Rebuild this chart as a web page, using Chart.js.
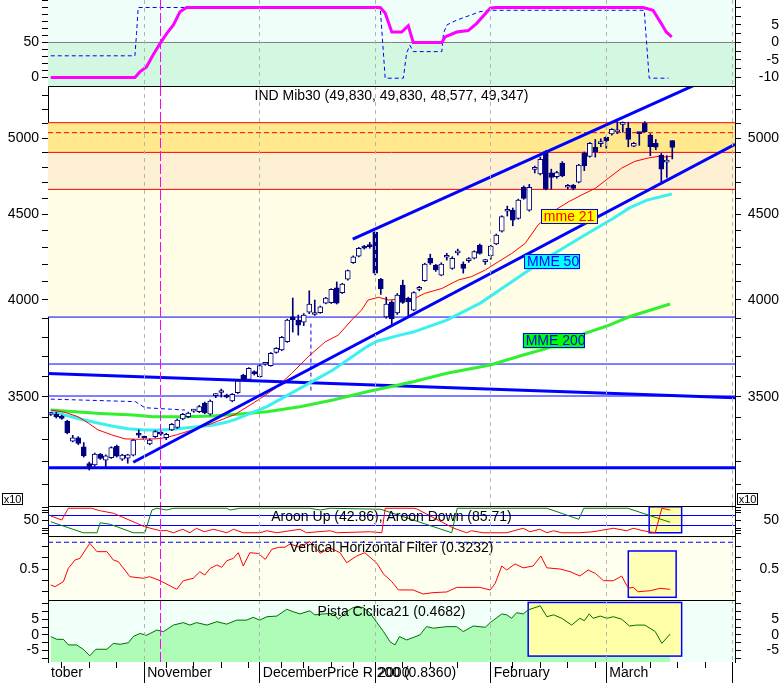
<!DOCTYPE html>
<html>
<head>
<meta charset="utf-8">
<title>IND Mib30</title>
<script src="https://cdn.jsdelivr.net/npm/chart.js@4.4.1/dist/chart.umd.min.js"></script>
<style>
  body { margin: 0; background: #fff; }
  #wrap { position: relative; width: 784px; height: 696px; overflow: hidden; }
  canvas { position: absolute; left: 0; }
</style>
</head>
<body>
<div id="wrap">
  <canvas id="pTop" width="784" height="86" style="top:0px"></canvas>
  <canvas id="pMain" width="784" height="420" style="top:86px"></canvas>
  <canvas id="pAroon" width="784" height="30" style="top:506px"></canvas>
  <canvas id="pVhf" width="784" height="64" style="top:536px"></canvas>
  <canvas id="pCyc" width="784" height="96" style="top:600px"></canvas>
</div>
<script>
// x is the bar index (trading days from early October 1999)
const X_MIN = -0.5, X_MAX = 124.4;
const MONTH_IDX = [17, 38, 59, 80, 101, 124];
const MONTH_LABELS = ['November', 'December', '2000', 'February', 'March', ''];
const FIRST_LABEL = 'tober';
const MARK_IDX = 20;
const WEEK_IDX = [2, 7, 12, 21, 26, 31, 36, 42, 46, 51, 55, 64, 69, 74, 84, 89, 94, 99, 104, 109, 114, 119];

// IND Mib30 daily candles
const opens = [3415,3417,3408,3384,3292,3307,3266,3191,3185,3232, 3206,3218,3268,3211,3215,3229,3320,3306,3279,3312,
  3332,3308,3343,3354,3394,3405,3431,3428,3469,3416, 3505,3520,3508,3479,3519,3606,3584,3623,3598,3660,
  3653,3720,3733,3776,3907,3890,3878,3932,3920,3930, 3982,3984,4067,4039,4115,4210,4248,4307,4306,4390,
  4115,3907,3988,3928,4082,4008,3944,4058,4107,4236, 4196,4139,4242,4177,4268,4202,4222,4236,4314,4216,
  4250,4321,4397,4520,4527,4476,4672,4527,4788,4758, 4908,4765,4740,4830,4672,4686,4705,4898,4875,4937,
  4962,5005,5028,5043,5095,5068,4945,5035,5102,5021, 4964,4884,4837,4983];
const highs = [3425,3425,3412,3388,3318,3312,3285,3198,3238,3236, 3230,3266,3274,3233,3233,3300,3343,3315,3302,3340,
  3336,3327,3373,3394,3420,3426,3440,3458,3474,3484, 3515,3537,3512,3515,3580,3610,3643,3627,3657,3668,
  3720,3745,3803,3895,4010,3917,3925,4050,3999,3966, 4014,4062,4100,4092,4168,4250,4300,4312,4330,4400,
  4120,4015,3995,4035,4110,4015,4045,4075,4207,4260, 4200,4210,4265,4245,4290,4215,4240,4280,4320,4230,
  4312,4380,4492,4552,4540,4596,4680,4690,4810,4870, 4915,4790,4776,4840,4690,4690,4822,4905,4970,4990,
  4995,5010,5065,5115,5112,5110,4970,5040,5115,5030, 4990,4895,4880,4983];
const lows = [3410,3398,3392,3325,3288,3276,3220,3163,3180,3210, 3178,3214,3220,3205,3193,3225,3308,3300,3275,3308,
  3318,3298,3340,3350,3390,3400,3425,3424,3418,3412, 3495,3498,3494,3475,3515,3580,3580,3606,3594,3655,
  3650,3716,3729,3772,3826,3810,3860,3925,3915,3926, 3978,3980,3977,4035,4110,4206,4244,4290,4295,4140,
  4030,3900,3860,3920,3980,3907,3940,4050,4103,4200, 4160,4135,4225,4172,4255,4150,4212,4232,4260,4200,
  4230,4316,4392,4490,4430,4470,4595,4520,4765,4752, 4655,4660,4730,4740,4660,4655,4700,4780,4870,4870,
  4940,4930,5020,5030,5040,4940,4940,4950,5040,4880, 4920,4706,4735,4858];
const closes = [3418,3403,3396,3330,3307,3281,3225,3178,3234,3214, 3226,3262,3224,3229,3230,3297,3319,3305,3297,3335,
  3323,3323,3369,3389,3416,3422,3432,3452,3422,3479, 3508,3522,3498,3511,3576,3584,3639,3611,3653,3662,
  3715,3741,3798,3890,3890,3862,3917,3977,3922,3961, 4009,4058,3981,4088,4164,4245,4295,4296,4305,4150,
  4060,3977,3896,4026,3986,3990,4040,4066,4202,4208, 4168,4202,4245,4236,4270,4177,4225,4275,4265,4218,
  4308,4374,4486,4524,4465,4590,4600,4672,4790,4856, 4663,4735,4767,4745,4674,4665,4817,4811,4964,4907,
  4964,4982,5060,5045,5108,4991,4964,5030,5044,4940, 4937,4789,4851,4935];

// moving averages (index, value)
const mme21X = [0,2.6,5,6.8,8.6,11.1,13.5,15.9,19,20.8,23.1,25.7,29.3,31.7,33.5,37.7,40.8,43.8,46.8,49.9,52.3,54.7,56.5,57.7,59.6,61.4,63.8,66.2,68,71.1,74.1,76.5,79,81.4,83.8,86.2,88.6,91.7,94.1,96.5,99,101.4,103.8,106.2,108.6,110.5,111.7,113];
const mme21Y = [3436,3425,3404,3375,3343,3320,3302,3300,3302,3307,3322,3343,3373,3397,3415,3484,3540,3614,3698,3775,3810,3890,3944,3999,4014,3999,4005,4008,4036,4063,4111,4130,4168,4216,4264,4322,4435,4527,4578,4622,4665,4731,4797,4842,4864,4875,4871,4877];
const mme50X = [0,2.6,5,8.1,11.1,14,17.1,20.2,23.1,26.2,29.3,31.7,33.5,39.3,45.3,51.3,57.5,59.3,63.5,65.9,72,78.1,86.5,90.2,96.2,102.3,105.3,108.4,112.9];
const mme50Y = [3431,3412,3396,3377,3361,3348,3343,3343,3348,3356,3365,3377,3391,3452,3540,3631,3750,3778,3810,3826,3890,3982,4158,4237,4356,4476,4542,4590,4629];
const mme200X = [0,9,15,18.6,24.8,29.5,34.4,39.3,45.3,51.3,57.5,65.9,72,79.9,85.9,90.2,96.2,101.1,105.3,112.6];
const mme200Y = [3436,3420,3412,3404,3404,3408,3417,3428,3452,3484,3524,3573,3615,3656,3707,3741,3810,3858,3909,3977];

// levels and trend lines on the price panel
const RESIST_LEVELS = [5107, 4902, 4658];
const PIVOT_LEVEL = 5037;
const BAND_FLOOR = 3906;
const BLUE_LEVELS = [3906, 3661, 3503];
const SUPPORT_LEVEL = 3173;
const upperX = [54.9, 118], upperY = [4349, 5396];
const lowerX = [15, 124.4], lowerY = [3197, 4957];
const longX = [-0.5, 124.4], longY = [3614, 3495];
const stopX = [0, 15.4, 17.1, 24.4], stopY = [3488, 3476, 3447, 3436];
const stop2X = [47.3, 47.3], stop2Y = [3871, 3522];
const MAIN_LABELS = [3500, 4000, 4500, 5000];

// top oscillator
const oscX = [0,15.3,16.2,17.4,18.6,19.9,21.1,22.3,23.5,24.7,59.9,60.8,62,63.8,65,65.9,71.1,71.7,73.8,75.9,77.4,79.9,80.8,107.7,109.5,111,111.9,112.9];
const oscY = [0,0,8,15,32,49,63,75,94,100,100,92,65,65,74,50,50,58,65,67,77,99,100,100,96,77,65,58];
const sigX = [0,15.3,15.6,15.9,59.9,60.8,64.1,64.7,65.3,65.9,71.1,71.4,72,73.8,76.3,78,79.9,107.9,108.2,108.8,112.3];
const sigY = [31,31,63,100,100,-1,-1,35,46,37,37,63,75,82,89,94,96,96,63,-1,-1];

// Aroon
const downX = [0,2,3.2,7.4,9,11.4,17.1,19.9,21.1,22.3,24,25.3,26.5,27.9,29.6,30.5,32,33.2,35,38,39.3,41.1,45.3,46.5,50.8,52,58,60.2,60.8,65.9,66.6,72.9,73.8,75.6,76.5,78.6,82.9,85.9,87.1,88.9,90.2,91.4,92.9,96.2,98.6,102.3,104.7,105.9,107.7,109.9,111.1,112.6];
const downY = [68,52,99,99,89,79,25,9,10,1,15,1,19,5,15,10,1,15,1,1,9,1,15,1,9,1,5,1,99,99,96,23,15,1,9,1,1,19,5,15,1,9,1,1,5,19,9,19,9,1,99,92];
const upX = [0,5.9,8.4,9,10.8,15,17.1,18.4,19.3,21.1,22.3,32,32.6,34.4,47.1,49,50.8,60,72.9,73.9,90.2,96,96.9,104.9,112.6];
const upY = [45,1,1,41,35,1,1,92,99,92,99,99,92,99,99,92,99,95,1,99,99,55,99,99,43];

// Vertical Horizontal Filter
const vhfX = [0,0.8,2.3,3.2,4.4,5.3,7.1,8.4,10.2,11.4,12.3,14.4,16.8,18,19.9,22.9,24.1,25.9,27.1,28,29,30.2,31.1,32,33.2,34.1,35,36.2,37.7,39,40.2,41.4,42.6,43.5,45.3,47.1,49,50.8,52.6,53.8,55.6,57.1,59.3,60.5,62,63.2,65.9,67.7,69.5,72,73.8,78,79.9,80.8,82,82.9,84.4,85.9,87.7,89.1,90.2,92.6,94.4,96.2,97.7,99,100.5,102.3,103.8,105,105.9,106.8,109,110.8,112.6];
const vhfY = [0.361,0.346,0.39,0.506,0.578,0.593,0.724,0.651,0.651,0.578,0.564,0.433,0.419,0.433,0.398,0.323,0.398,0.419,0.476,0.448,0.506,0.535,0.515,0.572,0.593,0.642,0.526,0.642,0.636,0.584,0.672,0.689,0.69,0.718,0.69,0.738,0.637,0.683,0.642,0.555,0.613,0.642,0.55,0.456,0.39,0.318,0.317,0.282,0.294,0.3,0.34,0.34,0.317,0.375,0.526,0.491,0.544,0.51,0.526,0.613,0.51,0.5,0.477,0.439,0.491,0.462,0.398,0.398,0.439,0.332,0.34,0.302,0.311,0.332,0.323];
const VHF_LEVEL = 0.733;

// Pista Ciclica21
const cycX = [0,1.1,2.3,3.2,4.7,5.9,7.1,8.2,10.2,11.4,12.6,14.1,15,16.2,17.4,19.3,20.5,22.3,24.1,25.3,26.5,28.4,30.2,32,33.8,35.6,36.8,38,39.3,41.1,42.9,44.1,45.3,47.1,48,49.6,51.4,52.3,53.8,55,56.8,58,59.3,60.5,61.7,62.6,63.4,64.7,67.1,68.3,69.6,72,73.8,75,76.8,79,79.9,82,82.9,83.8,84.7,85.9,86.8,89,90.2,91.4,92.9,94.7,96.2,97,97.9,98.6,99.9,101.1,102.3,103.8,105.2,106.5,108,109.9,111.1,112.6];
const cycY = [-0.5,-1.4,-1.4,-3.2,-3.2,-4.6,-6.7,-4.6,-4.6,-2.7,-3,-2.5,-0.5,0.5,-0.1,1.6,1.1,3.2,4,3.2,4,3.2,4.3,3.5,4.8,4.8,5.7,4.8,5.9,6.1,8.3,7.5,6.8,7.8,6.5,6.8,7,5.1,7.5,8.9,8.9,7.2,4,1.1,-2.2,-3.2,-0.5,-1.6,0,2.7,2.2,2.7,2.7,1.1,2.9,2.5,4,6.8,6.5,5.4,7.2,6.8,8.1,9.4,5.9,6.5,5.4,3.2,5.4,4.6,6.8,5.4,6.1,5.4,5.9,5.1,2.9,3.2,3.2,1.1,-2.7,0.3];

const FONT = '"Liberation Sans", Arial, sans-serif';
Chart.defaults.font.family = FONT;
Chart.defaults.font.size = 14;
Chart.defaults.color = '#000';

const pts = (xs, ys) => xs.map((x, k) => ({x: x, y: ys[k]}));
function line(xs, ys, color, width, extra) {
  return Object.assign({type: 'line', data: pts(xs, ys), borderColor: color, borderWidth: width,
    pointRadius: 0, tension: 0, fill: false}, extra || {});
}
function level(v, color, width, extra) { return line([X_MIN, X_MAX], [v, v], color, width, extra); }

const isMark = c => c.tick && c.tick.value === MARK_IDX;

// month grid lines, drawn above the filled backgrounds (grid.z > 0)
function gridX(extra) {
  return Object.assign({
    type: 'linear', axis: 'x', position: 'bottom', min: X_MIN, max: X_MAX, offset: false,
    afterBuildTicks: s => { s.ticks = MONTH_IDX.concat([MARK_IDX]).map(v => ({value: v})); },
    afterFit: s => { s.height = 0; s.paddingLeft = 0; s.paddingRight = 0; },
    ticks: {display: false},
    grid: {z: 1, offset: false, drawTicks: false, lineWidth: 1, color: c => isMark(c) ? '#ff00ff' : '#b4b4b4'},
    border: {display: false, dash: c => isMark(c) ? [10, 3] : [4, 4]}
  }, extra || {});
}
function tickX(vals, len, weight) {
  return {
    type: 'linear', axis: 'x', position: 'bottom', min: X_MIN, max: X_MAX, offset: false, weight: weight,
    afterBuildTicks: s => { s.ticks = vals.map(v => ({value: v})); },
    afterFit: s => { s.height = 0; s.paddingLeft = 0; s.paddingRight = 0; },
    ticks: {display: false},
    grid: {offset: false, drawOnChartArea: false, drawTicks: true, tickLength: len, tickColor: '#000', color: '#000'},
    border: {display: false}
  };
}
function yAxis(pos, min, max, tickVals, shown, type) {
  return {
    type: type || 'linear', position: pos, min: min, max: max,
    afterBuildTicks: s => { s.ticks = tickVals.map(v => ({value: v})); },
    afterFit: s => { s.width = pos === 'left' ? 48 : 44; s.paddingTop = 0; s.paddingBottom = 0; },
    grid: {drawOnChartArea: false, tickLength: 6, tickColor: '#000', color: '#000'},
    border: {display: true, color: '#000'},
    ticks: {autoSkip: false, padding: 3, crossAlign: pos === 'left' ? 'near' : 'far',
      callback: v => shown.includes(v) ? String(v) : ''}
  };
}

function drawBox(chart, b) {
  const {ctx, scales: {x, y}} = chart;
  const x0 = x.getPixelForValue(b.x0), x1 = x.getPixelForValue(b.x1);
  const y0 = y.getPixelForValue(b.y0), y1 = y.getPixelForValue(b.y1);
  ctx.save();
  ctx.fillStyle = b.fill;
  ctx.fillRect(x0, y0, x1 - x0, y1 - y0);
  ctx.strokeStyle = '#0000ff';
  ctx.lineWidth = 1.5;
  ctx.strokeRect(x0, y0, x1 - x0, y1 - y0);
  ctx.restore();
}

const deco = {
  id: 'deco',
  beforeDraw(chart, args, o) {
    if (!o.bg) return;
    const a = chart.chartArea, ctx = chart.ctx;
    ctx.save();
    ctx.fillStyle = o.bg;
    ctx.fillRect(a.left, a.top, a.right - a.left, a.bottom - a.top);
    ctx.restore();
  },
  beforeDatasetsDraw(chart, args, o) {
    (o.boxes || []).filter(b => b.after === undefined).forEach(b => drawBox(chart, b));
  },
  afterDatasetDraw(chart, args, o) {
    (o.boxes || []).filter(b => b.after === args.index).forEach(b => drawBox(chart, b));
  },
  afterDatasetsDraw(chart, args, o) {
    const {ctx, chartArea: a, scales} = chart;
    ctx.save();
    ctx.font = '14px ' + FONT;
    ctx.textBaseline = 'middle';
    (o.tags || []).forEach(t => {
      const px = scales.x.getPixelForValue(t.at[0]), py = scales.y.getPixelForValue(t.at[1]);
      ctx.fillStyle = t.bg;
      ctx.fillRect(px, py, t.w, 15);
      ctx.strokeStyle = '#0000ff';
      ctx.lineWidth = 1;
      ctx.strokeRect(Math.round(px) + 0.5, Math.round(py) + 0.5, t.w - 1, 14);
      ctx.fillStyle = t.fg;
      ctx.textAlign = 'left';
      ctx.fillText(t.text, px + 3, py + 8);
    });
    ctx.fillStyle = '#000';
    ctx.textAlign = 'center';
    (o.texts || []).forEach(t => ctx.fillText(t.text, (a.left + a.right) / 2, t.y));
    ctx.restore();
  },
  afterDraw(chart, args, o) {
    const {ctx, chartArea: a} = chart;
    ctx.save();
    if (o.frameTop) {
      ctx.strokeStyle = '#000';
      ctx.lineWidth = 1;
      ctx.beginPath();
      ctx.moveTo(a.left, a.top + 0.5);
      ctx.lineTo(a.right + 1, a.top + 0.5);
      ctx.stroke();
    }
    if (o.x10) {
      ctx.font = '11px ' + FONT;
      ctx.textAlign = 'center';
      ctx.textBaseline = 'middle';
      [a.left - 46, a.right + 2].forEach(bx => {
        const by = a.bottom - 13;
        ctx.fillStyle = '#fff';
        ctx.fillRect(bx, by, 20, 11);
        ctx.strokeStyle = '#000';
        ctx.strokeRect(bx + 0.5, by + 0.5, 20, 11);
        ctx.fillStyle = '#000';
        ctx.fillText('x10', bx + 10.5, by + 6.5);
      });
    }
    ctx.restore();
  }
};

function makeChart(id, datasets, scales, decoOpts) {
  return new Chart(document.getElementById(id), {
    type: 'line',
    data: {datasets: datasets},
    options: {
      responsive: false, maintainAspectRatio: false, animation: false, events: [],
      layout: {padding: {left: 0, right: 5, top: 0, bottom: 0}, autoPadding: false},
      scales: scales,
      plugins: {legend: {display: false}, tooltip: {enabled: false}, deco: decoOpts}
    },
    plugins: [deco]
  });
}

// ---- top oscillator panel ----
const TOP_MIN = -12.14, TOP_MAX = 110.7;
makeChart('pTop', [
  level(50, 'rgba(0,0,0,0)', 0, {fill: 'end', backgroundColor: '#effef8', order: 10}),
  level(50, '#808080', 1, {fill: 'start', backgroundColor: '#d3f8e1', order: 9}),
  line(sigX, sigY, '#0000ff', 1, {borderDash: [4, 3], order: 2}),
  line(oscX, oscY, '#ff00ff', 3, {order: 1})
], {
  x: gridX(),
  y: yAxis('left', TOP_MIN, TOP_MAX, [0, 10, 20, 30, 40, 50, 60, 70, 80, 90, 100, 110], [0, 50]),
  yr: yAxis('right', (TOP_MIN - 50) / 5, (TOP_MAX - 50) / 5, [-10, -7.5, -5, -2.5, 0, 2.5, 5, 7.5, 10], [-10, -5, 0, 5])
}, {});

// ---- price panel ----
const candleIdx = opens.map((_, i) => i);
const MAIN_MIN = 3010, MAIN_MAX = 5372;
const mainTicks = [];
for (let v = 3100; v <= 5300; v += 100) mainTicks.push(v);
makeChart('pMain', [
  level(RESIST_LEVELS[0], '#ff0000', 1, {fill: {value: RESIST_LEVELS[1]}, backgroundColor: '#ffe98c', order: 30}),
  level(RESIST_LEVELS[1], '#ff0000', 1, {fill: {value: RESIST_LEVELS[2]}, backgroundColor: '#fdf0d2', order: 29}),
  level(RESIST_LEVELS[2], '#ff0000', 1, {fill: {value: BAND_FLOOR}, backgroundColor: '#fffde6', order: 28}),
  level(PIVOT_LEVEL, '#ff0000', 1, {borderDash: [5, 3], order: 27}),
  level(BLUE_LEVELS[0], '#0000ff', 1, {order: 26}),
  level(BLUE_LEVELS[1], '#0000ff', 1, {order: 25}),
  level(BLUE_LEVELS[2], '#0000ff', 1, {order: 24}),
  level(SUPPORT_LEVEL, '#0000ff', 3, {order: 23}),
  line(stopX, stopY, '#0000ff', 1, {borderDash: [4, 3], order: 22}),
  line(stop2X, stop2Y, '#0000ff', 1, {borderDash: [4, 3], order: 21}),
  line(longX, longY, '#0000ff', 3, {order: 20}),
  line(mme200X, mme200Y, '#30f030', 3, {order: 12}),
  line(mme50X, mme50Y, '#3cf0f0', 3, {order: 11}),
  line(mme21X, mme21Y, '#ff0000', 1, {order: 10}),
  {type: 'bar', data: candleIdx.map(i => ({x: i, y: [lows[i], highs[i]]})), backgroundColor: '#000080',
    barThickness: 1, grouped: false, order: 5},
  {type: 'bar', data: candleIdx.map(i => ({x: i, y: [opens[i], closes[i]]})),
    backgroundColor: c => closes[c.dataIndex] >= opens[c.dataIndex] ? '#ffffff' : '#000080',
    borderColor: '#000080', borderWidth: 1, borderSkipped: false, barThickness: 5, minBarLength: 2,
    grouped: false, order: 4},
  line(lowerX, lowerY, '#0000ff', 3, {order: 2}),
  line(upperX, upperY, '#0000ff', 3, {order: 1})
], {
  x: gridX(),
  y: yAxis('left', MAIN_MIN, MAIN_MAX, mainTicks, MAIN_LABELS, 'logarithmic'),
  yr: yAxis('right', MAIN_MIN, MAIN_MAX, mainTicks, MAIN_LABELS, 'logarithmic')
}, {
  frameTop: true, x10: true,
  texts: [{text: 'IND Mib30 (49,830, 49,830, 48,577, 49,347)', y: 10}],
  tags: [
    {text: 'mme 21', at: [89.1, 4533], w: 57, bg: '#ffff00', fg: '#ff0000'},
    {text: 'MME 50', at: [86.05, 4259], w: 56, bg: '#00ffff', fg: '#0000ff'},
    {text: 'MME 200', at: [85.8, 3819], w: 62, bg: '#00ff00', fg: '#0000ff'}
  ]
});

// ---- Aroon panel ----
makeChart('pAroon', [
  level(70, '#0000ff', 1, {order: 4}),
  level(30, '#0000ff', 1, {order: 3}),
  line(upX, upY, '#008000', 1, {order: 2}),
  line(downX, downY, '#ff0000', 1, {order: 1})
], {
  x: gridX(),
  y: yAxis('left', -12, 108, [0, 10, 20, 50, 80, 90, 100], [50]),
  yr: yAxis('right', -12, 108, [0, 10, 20, 50, 80, 90, 100], [50])
}, {
  frameTop: true,
  boxes: [{x0: 108.8, x1: 114.7, y0: 105, y1: 1, fill: '#ffffa0'}],
  texts: [{text: 'Aroon Up (42.86), Aroon Down (85.71)', y: 11}]
});

// ---- VHF panel ----
makeChart('pVhf', [
  level(VHF_LEVEL, '#0000ff', 1, {borderDash: [5, 3], order: 2}),
  line(vhfX, vhfY, '#ff0000', 1, {order: 1})
], {
  x: gridX(),
  y: yAxis('left', 0.23, 0.7875, [0.3, 0.4, 0.5, 0.6, 0.7], [0.5]),
  yr: yAxis('right', 0.23, 0.7875, [0.3, 0.4, 0.5, 0.6, 0.7], [0.5])
}, {
  frameTop: true, bg: '#fffff0',
  boxes: [{x0: 105, x1: 113.7, y0: 0.657, y1: 0.2535, fill: '#ffffb8'}],
  texts: [{text: 'Vertical Horizontal Filter (0.3232)', y: 12}]
});

// ---- Pista Ciclica panel + time axis ----
const labelFor = v => v === X_MIN ? FIRST_LABEL : (MONTH_LABELS[MONTH_IDX.indexOf(v)] || '');
makeChart('pCyc', [
  line(cycX, cycY, 'rgba(0,0,0,0)', 0, {fill: 'start', backgroundColor: '#aefcb8', order: 3}),
  line(cycX, cycY, '#007000', 1, {order: 1})
], {
  x: gridX({
    weight: 3,
    afterBuildTicks: s => { s.ticks = [X_MIN].concat(MONTH_IDX, [MARK_IDX]).map(v => ({value: v})); },
    afterFit: s => { s.height = 34; s.paddingLeft = 0; s.paddingRight = 0; },
    ticks: {display: true, autoSkip: false, maxRotation: 0, minRotation: 0, align: 'start', labelOffset: 3,
      padding: 3, callback: v => labelFor(v)},
    grid: {z: 1, offset: false, drawTicks: false, lineWidth: 1,
      color: c => !c.tick ? '#000' : (c.tick.value === X_MIN ? 'rgba(0,0,0,0)' : (isMark(c) ? '#ff00ff' : '#b4b4b4'))},
    border: {display: true, color: '#000', dash: c => isMark(c) ? [10, 3] : [4, 4]}
  }),
  xm: tickX(MONTH_IDX, 21, 1),
  xw: tickX(WEEK_IDX, 6, 2),
  y: yAxis('left', -8.71, 11.29, [-7.5, -5, -2.5, 0, 2.5, 5, 7.5, 10], [5, 0, -5]),
  yr: yAxis('right', -8.71, 11.29, [-7.5, -5, -2.5, 0, 2.5, 5, 7.5, 10], [5, 0, -5])
}, {
  frameTop: true, bg: '#f0fff8',
  boxes: [{x0: 86.8, x1: 114.7, y0: 10.5, y1: -6.8, fill: '#ffffa8', after: 0}],
  texts: [{text: 'Pista Ciclica21 (0.4682)', y: 12}, {text: 'Price R 200 (0.8360)', y: 73}]
});
</script>
</body>
</html>
